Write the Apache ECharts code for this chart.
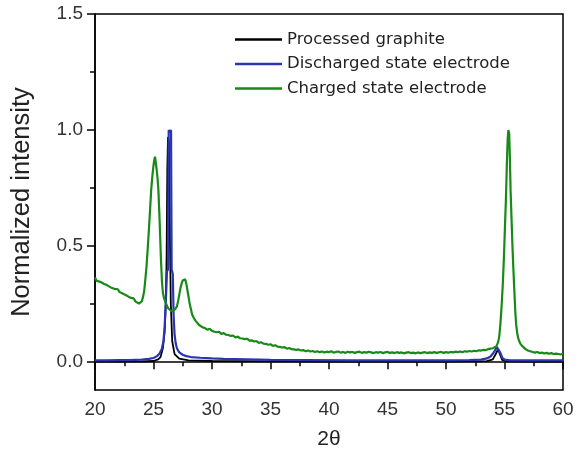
<!DOCTYPE html>
<html>
<head>
<meta charset="utf-8">
<script src="https://cdn.jsdelivr.net/npm/echarts@6/dist/echarts.min.js"></script>
<style>html,body{margin:0;padding:0;background:#fff}#c{width:578px;height:450px}</style>
</head>
<body>
<div id="c"></div>
<script>
const seriesNames = ['Processed graphite', 'Discharged state electrode', 'Charged state electrode'];
const xTicks = [20, 25, 30, 35, 40, 45, 50, 55, 60];
const yLabelTicks = [0, 0.5, 1.0, 1.5];
const yMinorTicks = [0.25, 0.75, 1.25];

const graphiteData = [
  [20,0.002],[22,0.002],[24,0.003],[25,0.005],[25.4,0.012],[25.6,0.022],[25.8,0.06],[25.95,0.13],[26.05,0.25],
  [26.12,0.45],[26.18,0.83],[26.24,0.97],[26.32,0.95],[26.4,0.55],[26.48,0.25],[26.6,0.09],[26.8,0.035],
  [27.2,0.015],[28,0.008],[30,0.005],[35,0.003],[40,0.002],[45,0.002],[50,0.002],[53.5,0.004],
  [54.0,0.012],[54.25,0.035],[54.45,0.055],[54.6,0.035],[54.8,0.01],[55.2,0.003],[57,0.002],[60,0.002]
];

const dischargedData = [
  [20,0.008],[21,0.008],[22,0.009],[23,0.009],[24,0.011],[24.6,0.014],[25.0,0.018],[25.3,0.026],[25.5,0.036],
  [25.7,0.055],[25.85,0.09],[25.95,0.15],[26.05,0.26],[26.15,0.39],[26.25,0.40],[26.3,1.0],[26.4,0.99],
  [26.5,1.0],[26.55,0.40],[26.65,0.38],[26.72,0.20],[26.8,0.12],[26.9,0.08],[27.0,0.06],[27.2,0.042],
  [27.5,0.032],[27.8,0.026],[28.2,0.022],[29,0.019],[30,0.016],[31,0.014],[32,0.013],[33,0.012],[35,0.010],
  [38,0.009],[42,0.008],[46,0.008],[50,0.008],[52,0.009],[53,0.011],[53.5,0.016],[53.8,0.024],[54.0,0.036],
  [54.2,0.052],[54.35,0.065],[54.5,0.060],[54.65,0.040],[54.8,0.02],[55.0,0.011],[55.5,0.008],[57,0.008],[60,0.008]
];

const chargedData = [
  [20.0,0.365],[20.15,0.350],[20.3,0.357],[20.45,0.346],[20.6,0.349],[20.75,0.338],[20.9,0.343],[21.05,0.331],
  [21.2,0.336],[21.35,0.322],[21.5,0.328],[21.65,0.316],[21.8,0.309],[21.95,0.314],[22.1,0.302],[22.25,0.307],
  [22.4,0.295],[22.55,0.299],[22.7,0.287],[22.85,0.291],[23.0,0.278],[23.15,0.271],[23.3,0.275],[23.45,0.262],
  [23.6,0.266],[23.75,0.252],[23.9,0.258],[24.0,0.262],[24.1,0.280],[24.2,0.305],[24.3,0.355],[24.4,0.410],
  [24.5,0.485],[24.6,0.565],[24.7,0.650],[24.8,0.740],[24.9,0.800],[25.0,0.848],[25.07,0.872],[25.13,0.885],
  [25.2,0.858],[25.27,0.830],[25.35,0.790],[25.42,0.740],[25.5,0.640],[25.57,0.540],[25.64,0.440],[25.72,0.350],
  [25.8,0.300],[25.9,0.275],[26.0,0.262],[26.13,0.245],[26.25,0.232],[26.4,0.225],[26.55,0.218],[26.7,0.222],
  [26.85,0.228],[27.0,0.240],[27.1,0.262],[27.2,0.290],[27.3,0.318],[27.4,0.338],[27.5,0.352],[27.6,0.360],
  [27.7,0.357],[27.8,0.340],[27.9,0.310],[28.0,0.280],[28.1,0.250],[28.2,0.228],[28.3,0.205],[28.45,0.190],
  [28.6,0.178],[28.75,0.170],[28.9,0.160],[29.0,0.157],[29.2,0.150],[29.4,0.147],[29.6,0.140],[29.8,0.144],
  [30.0,0.135],[30.2,0.131],[30.4,0.129],[30.6,0.131],[30.8,0.122],[31.0,0.125],[31.2,0.118],[31.4,0.117],
  [31.6,0.113],[31.8,0.115],[32.0,0.106],[32.2,0.110],[32.4,0.103],[32.6,0.102],[32.8,0.099],[33.0,0.101],
  [33.2,0.093],[33.4,0.094],[33.6,0.089],[33.8,0.091],[34.0,0.083],[34.2,0.086],[34.4,0.080],[34.6,0.079],
  [34.8,0.075],[35.0,0.077],[35.2,0.070],[35.4,0.073],[35.6,0.067],[35.8,0.066],[36.0,0.063],[36.2,0.065],
  [36.4,0.058],[36.6,0.061],[36.8,0.056],[37.0,0.055],[37.2,0.053],[37.4,0.055],[37.6,0.050],[37.8,0.052],
  [38.0,0.047],[38.2,0.050],[38.4,0.046],[38.6,0.048],[38.8,0.044],[39.0,0.047],[39.2,0.043],[39.4,0.046],
  [39.6,0.042],[39.8,0.045],[40.0,0.043],[40.2,0.047],[40.4,0.041],[40.6,0.044],[40.8,0.046],[41.0,0.041],
  [41.2,0.044],[41.4,0.040],[41.6,0.045],[41.8,0.042],[42.0,0.044],[42.2,0.040],[42.4,0.043],[42.6,0.045],
  [42.8,0.040],[43.0,0.043],[43.2,0.041],[43.4,0.045],[43.6,0.042],[43.8,0.039],[44.0,0.043],[44.2,0.041],
  [44.4,0.044],[44.6,0.039],[44.8,0.042],[45.0,0.044],[45.2,0.040],[45.4,0.042],[45.6,0.039],[45.8,0.043],
  [46.0,0.040],[46.2,0.042],[46.4,0.038],[46.6,0.041],[46.8,0.043],[47.0,0.039],[47.2,0.041],[47.4,0.038],
  [47.6,0.042],[47.8,0.039],[48.0,0.041],[48.2,0.043],[48.4,0.039],[48.6,0.042],[48.8,0.040],[49.0,0.043],
  [49.2,0.040],[49.4,0.042],[49.6,0.044],[49.8,0.040],[50.0,0.043],[50.2,0.041],[50.4,0.044],[50.6,0.042],
  [50.8,0.045],[51.0,0.043],[51.2,0.046],[51.4,0.043],[51.6,0.047],[51.8,0.045],[52.0,0.048],[52.2,0.046],
  [52.4,0.049],[52.6,0.047],[52.8,0.051],[53.0,0.050],[53.2,0.053],[53.4,0.052],[53.6,0.056],[53.8,0.058],
  [54.0,0.060],[54.15,0.063],[54.3,0.068],[54.45,0.085],[54.55,0.110],[54.65,0.165],[54.75,0.240],[54.85,0.330],
  [54.95,0.450],[55.05,0.600],[55.12,0.700],[55.2,0.850],[55.27,0.960],[55.33,1.000],[55.4,0.985],[55.46,0.880],
  [55.52,0.740],[55.6,0.620],[55.68,0.500],[55.76,0.400],[55.84,0.310],[55.92,0.220],[56.0,0.160],[56.1,0.120],
  [56.2,0.098],[56.35,0.080],[56.5,0.070],[56.65,0.062],[56.8,0.056],[57.0,0.050],[57.2,0.047],[57.4,0.044],
  [57.6,0.041],[57.8,0.044],[58.0,0.039],[58.2,0.041],[58.4,0.037],[58.6,0.040],[58.8,0.036],[59.0,0.039],
  [59.2,0.035],[59.4,0.037],[59.6,0.035],[59.8,0.033],[60.0,0.036]
];

const colors = ['#000000', '#2a36b0', '#178a17'];
const labelFont = 'Liberation Sans';

const chart = echarts.init(document.getElementById('c'), null, {renderer: 'canvas'});
chart.setOption({
  animation: false,
  backgroundColor: '#ffffff',
  grid: {left: 95, right: 15, top: 14, bottom: 60, containLabel: false, outerBoundsMode: 'none',
         show: true, borderColor: '#000', borderWidth: 1.5, backgroundColor: 'transparent'},
  legend: {
    data: seriesNames,
    orient: 'vertical',
    left: 230, top: 26,
    itemWidth: 47, itemHeight: 14, itemGap: 7.5,
    icon: 'path://M0,5.8 L47,5.8 L47,8.2 L0,8.2 Z',
    textStyle: {fontFamily: 'DejaVu Sans', fontSize: 16.5, color: '#222'}
  },
  xAxis: {
    type: 'value', min: 20, max: 60, interval: 5,
    name: '2θ', nameLocation: 'middle', nameGap: 39,
    nameTextStyle: {fontFamily: labelFont, fontSize: 21, color: '#222'},
    axisLine: {show: true, lineStyle: {color: '#000', width: 1.5}},
    axisTick: {show: true, length: 7, lineStyle: {color: '#000', width: 1.5}},
    minorTick: {show: true, splitNumber: 2, length: 4, lineStyle: {color: '#000', width: 1.5}},
    axisLabel: {fontFamily: labelFont, fontSize: 19, color: '#333', margin: 10, formatter: v => xTicks.includes(v) ? String(v) : ''},
    splitLine: {show: false}
  },
  yAxis: [{
    type: 'value', min: -0.12, max: 1.5,
    name: 'Normalized intensity', nameLocation: 'middle', nameGap: 60, nameRotate: 90,
    nameTextStyle: {fontFamily: labelFont, fontSize: 25.5, color: '#222'},
    axisLine: {show: true, lineStyle: {color: '#000', width: 1.5}},
    axisTick: {show: true, length: 8, customValues: yLabelTicks, lineStyle: {color: '#000', width: 1.5}},
    axisLabel: {fontFamily: labelFont, fontSize: 19, color: '#333', margin: 12, customValues: yLabelTicks, formatter: v => v.toFixed(1)},
    splitLine: {show: false}
  }, {
    type: 'value', min: -0.12, max: 1.5, position: 'left',
    axisLine: {show: false},
    axisTick: {show: true, length: 5, customValues: yMinorTicks, lineStyle: {color: '#000', width: 1.5}},
    axisLabel: {show: false},
    splitLine: {show: false}
  }],
  series: [
    {name: seriesNames[0], type: 'line', data: graphiteData, symbol: 'none', color: colors[0], lineStyle: {width: 1.8, color: colors[0]}, z: 2},
    {name: seriesNames[1], type: 'line', data: dischargedData, symbol: 'none', color: colors[1], lineStyle: {width: 2.2, color: colors[1]}, z: 3},
    {name: seriesNames[2], type: 'line', data: chargedData, symbol: 'none', color: colors[2], lineStyle: {width: 2.2, color: colors[2]}, z: 4}
  ]
});
</script>
</body>
</html>
